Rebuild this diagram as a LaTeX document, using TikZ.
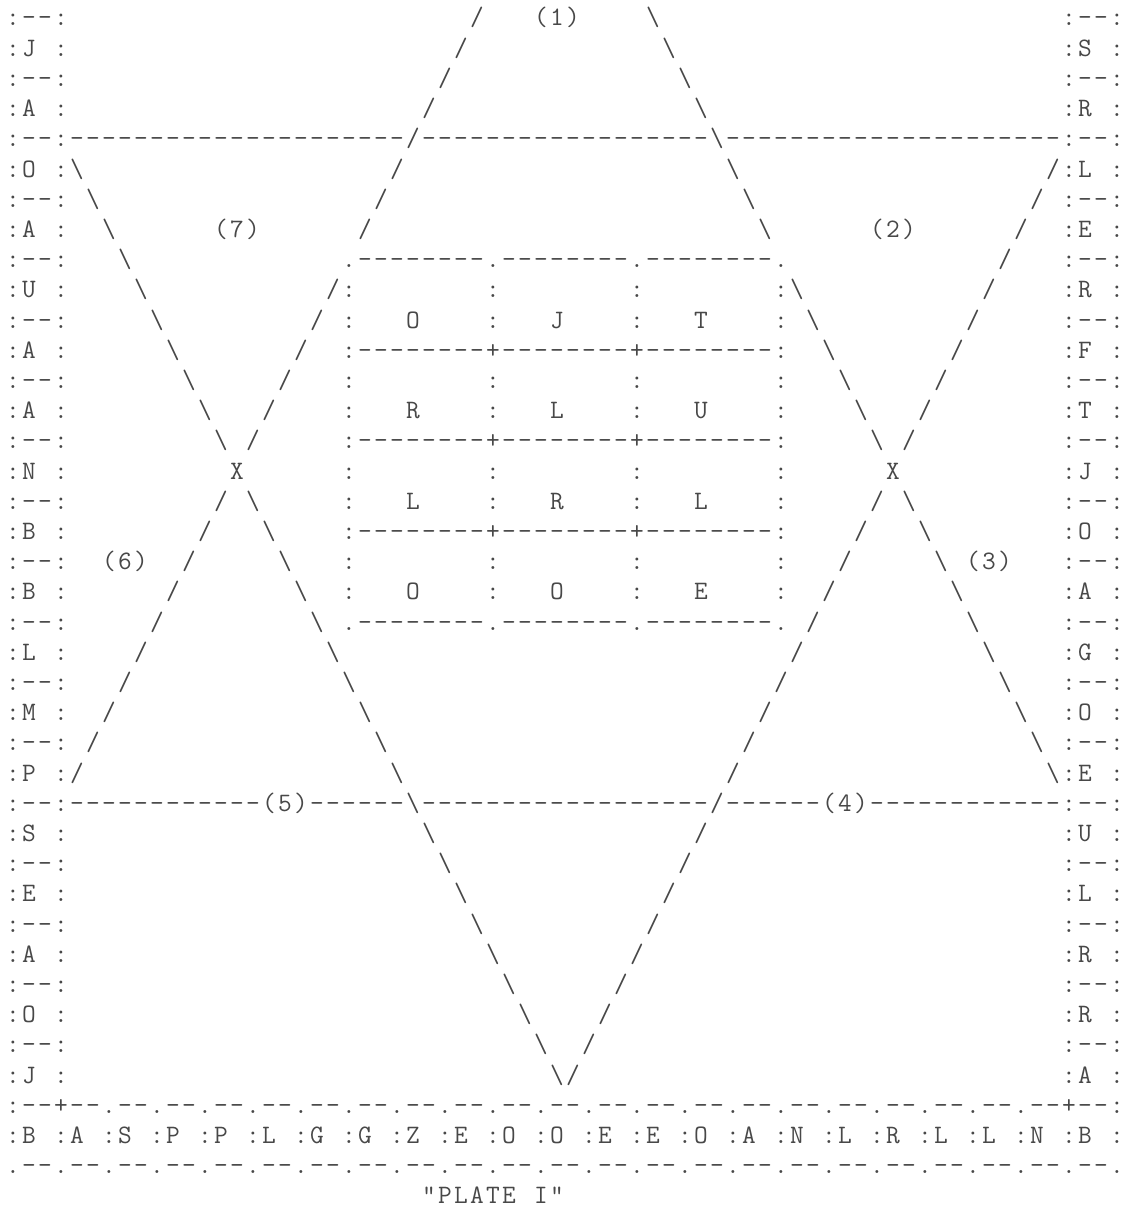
\documentclass[tikz,border=0pt]{standalone}
\usetikzlibrary{positioning}
\definecolor{ink}{RGB}{72,72,72}
\tikzset{
  ch/.style={font=\ttfamily\fontsize{13.3}{15}\selectfont, text=ink, inner sep=0pt, anchor=base, yshift=-4pt},
  tag/.style={ch}
}
\begin{document}
\begin{tikzpicture}[x=8pt, y=-15.1pt]
  \useasboundingbox (-0.8125,0.404) rectangle (69.5625,40.437);
  % side columns
  \foreach \L in {1,3,...,35} {
    \foreach \c/\s in {0/:,1/-,2/-,3/:,66/:,67/-,68/-,69/:} \node[ch] at (\c,\L) {\s};
  }
  \foreach \L/\a/\b in {2/J/S,4/A/R,6/O/L,8/A/E,10/U/R,12/A/F,14/A/T,16/N/J,18/B/O,
                        20/B/A,22/L/G,24/M/O,26/P/E,28/S/U,30/E/L,32/A/R,34/O/R,36/J/A} {
    \node[ch] at (0,\L) {:}; \node[ch] (west\L) at (1,\L) {\a}; \node[ch] at (3,\L) {:};
    \node[ch] at (66,\L) {:}; \node[ch] (east\L) at (67,\L) {\b}; \node[ch] at (69,\L) {:};
  }
  % cross rules
  \foreach \a/\b in {4/24,26/43,45/65} {\foreach \c in {\a,...,\b} \node[ch] at (\c,5) {-};}
  \foreach \a/\b in {4/15,19/24,26/43,45/50,54/65} {\foreach \c in {\a,...,\b} \node[ch] at (\c,27) {-};}
  \foreach \c/\L/\n in {34/1/1,14/8/7,55/8/2,7/19/6,61/19/3,17/27/5,52/27/4} {
    \node[tag] at ({\c-1},\L) {(}; \node[tag] (mark\n) at (\c,\L) {\n}; \node[tag] at ({\c+1},\L) {)};
  }
  % triangles
  \foreach \L in {1,...,26} {
    \ifnum\L=9 \else\ifnum\L=16 \else
      \node[ch] at ({30-\L},\L) {/};
      \node[ch] at ({39+\L},\L) {\textbackslash};
    \fi\fi
  }
  \foreach \L in {6,...,36} {
    \ifnum\L=16 \else
      \node[ch] at ({\L-2},\L) {\textbackslash};
      \node[ch] at ({71-\L},\L) {/};
    \fi
  }
  \node[ch] (xwest) at (14,16) {X};
  \node[ch] (xeast) at (55,16) {X};
  % square
  \foreach \L/\e/\m in {9/./.,12/:/+,15/:/+,18/:/+,21/./.} {
    \foreach \a/\b in {22/29,31/38,40/47} {\foreach \c in {\a,...,\b} \node[ch] at (\c,\L) {-};}
    \node[ch] at (21,\L) {\e}; \node[ch] at (30,\L) {\m};
    \node[ch] at (39,\L) {\m}; \node[ch] at (48,\L) {\e};
  }
  \foreach \L in {10,11,13,14,16,17,19,20} {
    \foreach \c in {21,30,39,48} \node[ch] at (\c,\L) {:};
  }
  \foreach \L/\p/\q/\r in {11/O/J/T,14/R/L/U,17/L/R/L,20/O/O/E} {
    \node[ch] (sq\L a) at (25,\L) {\p}; \node[ch] (sq\L b) at (34,\L) {\q}; \node[ch] (sq\L c) at (43,\L) {\r};
  }
  % bottom row
  \foreach \c/\s in {0/:,1/-,2/-,3/+,64/-,65/-,66/+,67/-,68/-,69/:} \node[ch] at (\c,37) {\s};
  \foreach \k in {0,...,19} {
    \node[ch] at ({4+3*\k},37) {-}; \node[ch] at ({5+3*\k},37) {-}; \node[ch] at ({6+3*\k},37) {.};
  }
  \foreach \s [count=\k from 0] in {B,A,S,P,P,L,G,G,Z,E,O,O,E,E,O,A,N,L,R,L,L,N,B} {
    \node[ch] at ({3*\k},38) {:}; \node[ch] (south\k) at ({3*\k+1},38) {\s};
  }
  \node[ch] at (69,38) {:};
  \foreach \k in {0,...,22} {
    \node[ch] at ({3*\k},39) {.}; \node[ch] at ({3*\k+1},39) {-}; \node[ch] at ({3*\k+2},39) {-};
  }
  \node[ch] at (69,39) {.};
  \foreach \c/\s in {26/",27/P,28/L,29/A,30/T,31/E,33/I,34/"} \node[ch] (plate\c) at (\c,40) {\s};
\end{tikzpicture}
\end{document}
